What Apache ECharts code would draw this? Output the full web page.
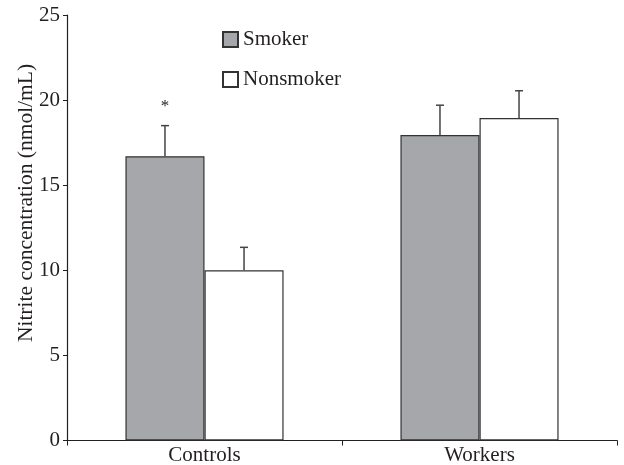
<!DOCTYPE html>
<html><head><meta charset="utf-8">
<script src="https://cdn.jsdelivr.net/npm/echarts@6/dist/echarts.min.js"></script>
<style>html,body{margin:0;padding:0;background:#fff}#c{width:624px;height:465px}</style>
</head><body><div id="c"></div>
<script>
const categories = ['Controls', 'Workers'];
const smoker = [16.7, 17.95];
const smokerErr = [18.5, 19.7];
const nonsmoker = [10.0, 18.95];
const nonsmokerErr = [11.35, 20.55];
const sigMarks = ['*', ''];
const sigPos = [19.6, 0];
const yTitle = 'Nitrite concentration (nmol/mL)';

const FONT = '"Liberation Serif", "DejaVu Serif", serif';
const TXT = '#231f20';
const chart = echarts.init(document.getElementById('c'));
const gapPct = 0.425;

function errSeries(name, vals, errs, side) {
  return {
    type: 'custom', name: name + ' err', z: 1,
    data: vals.map((v, i) => [i, v, errs[i]]),
    renderItem(params, api) {
      const i = api.value(0);
      const bw = api.size([1, 0])[0] * (1 - gapPct) / 2;
      const base = api.coord([i, api.value(1)]);
      const top = api.coord([i, api.value(2)]);
      const x = base[0] + side * bw / 2;
      const cap = 4;
      return { type: 'group', children: [
        { type: 'line', shape: { x1: x, y1: base[1], x2: x, y2: top[1] }, style: { stroke: '#444', lineWidth: 1.5 } },
        { type: 'line', shape: { x1: x - cap, y1: top[1], x2: x + cap, y2: top[1] }, style: { stroke: '#444', lineWidth: 1.5 } }
      ]};
    }
  };
}

chart.setOption({
  animation: false,
  textStyle: { fontFamily: FONT },
  grid: { left: 67, right: 7, top: 15, bottom: 24.5, outerBoundsMode: 'none', containLabel: false },
  graphic: [{
    type: 'text', x: 26, y: 203, rotation: Math.PI / 2,
    style: { text: yTitle, font: '21.5px "Liberation Serif", serif', fill: TXT, align: 'center', verticalAlign: 'middle' }
  }],
  legend: {
    orient: 'vertical', left: 217, top: 24, itemWidth: 15, itemHeight: 15, itemGap: 19,
    textStyle: { fontFamily: FONT, fontSize: 21, color: TXT },
    data: [
      { name: 'Smoker', icon: 'rect' },
      { name: 'Nonsmoker', icon: 'rect' }
    ]
  },
  xAxis: {
    type: 'category', data: categories,
    axisLine: { lineStyle: { color: TXT, width: 1.2 } },
    axisTick: { show: true, length: 5, lineStyle: { color: TXT } },
    axisLabel: { fontFamily: FONT, fontSize: 21, color: TXT, margin: 4 }
  },
  yAxis: {
    type: 'value', min: 0, max: 25, interval: 5,
    splitLine: { show: false },
    axisLine: { show: true, lineStyle: { color: TXT, width: 1.2 } },
    axisTick: { show: true, length: 4, lineStyle: { color: TXT } },
    axisLabel: { fontFamily: FONT, fontSize: 21, color: TXT, margin: 7 }
  },
  series: [
    {
      name: 'Smoker', type: 'bar', data: smoker, barGap: '0%', barCategoryGap: '42.5%', z: 2,
      itemStyle: { color: '#a6a7aa', borderColor: '#333', borderWidth: 1.2 }
    },
    {
      name: 'Nonsmoker', type: 'bar', data: nonsmoker, z: 2,
      itemStyle: { color: '#ffffff', borderColor: '#333', borderWidth: 1.2 }
    },
    errSeries('Smoker', smoker, smokerErr, -1),
    errSeries('Nonsmoker', nonsmoker, nonsmokerErr, 1),
    {
      type: 'custom', name: 'sig', z: 3,
      data: sigMarks.map((m, i) => [i, sigPos[i], m]),
      renderItem(params, api) {
        const i = api.value(0);
        const bw = api.size([1, 0])[0] * (1 - gapPct) / 2;
        const p = api.coord([i, api.value(1)]);
        return { type: 'text', style: { text: sigMarks[i], x: p[0] - bw / 2, y: p[1], align: 'center', verticalAlign: 'middle', font: '17px "Liberation Serif", serif', fill: TXT } };
      }
    }
  ]
});
</script></body></html>
